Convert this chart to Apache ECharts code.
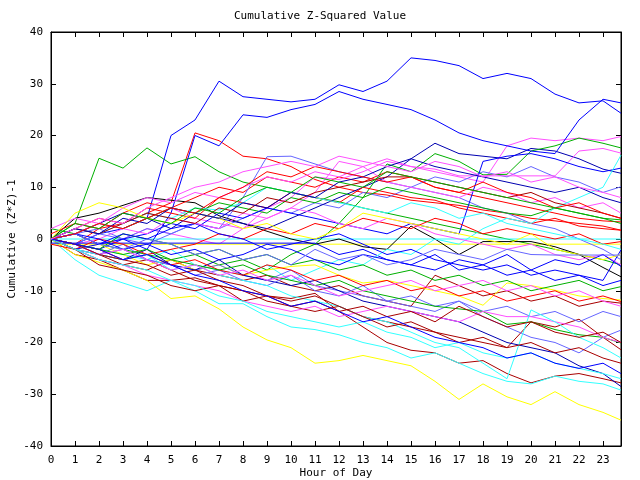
<!DOCTYPE html>
<html><head><meta charset="utf-8">
<script src="https://cdn.jsdelivr.net/npm/echarts@6/dist/echarts.min.js"></script>
<style>html,body{margin:0;padding:0;background:#fff}#c{width:640px;height:480px}</style>
</head><body><div id="c"></div>
<script>
const hours = [0,1,2,3,4,5,6,7,8,9,10,11,12,13,14,15,16,17,18,19,20,21,22,23,23.75];
const yTicks = [-40,-30,-20,-10,0,10,20,30,40];

const blueTop     = [0,-1,1,2,4,20,23,30.5,27.5,27,26.5,27,29.8,28.5,30.5,35,34.5,33.5,31,32,31,28,26.3,26.7,24.3];
const blueSecond  = [0,1,-1,0,-2,5,20,18,24,23.5,25,26,28.5,27,26,25,23,20.5,19,18,17,16.5,23,27,26.3];
const redHigh     = [0,-1,2,3,5,7,20.5,19,16,15.5,14,11.5,10,9,8.5,7.5,7,6.5,5.6,5,4,3.5,3,2.5,1.7];
const greenHigh   = [0,3,15.6,13.7,17.6,14.5,15.9,13,11,10,9,8,7.2,6,5,4,3,2,1,0,-1,-2,-3,-4,-5];
const greenRise   = [0,1,-1,-2,-3,-4,-3,-5,-4,-6,-3,-1,3,8,14.5,13,16.5,15,12.4,12.5,17,18,19.5,18.5,17.6];
const magentaA    = [0,1,-1,0,2,1,0,-1,2,4,6,9,15,14,15.5,14,13,12,11,18,19.5,19,19.5,19,19.8];
const magentaFlat = [0,-1,0,2,4,6,4,3,2,6,8,12,11.5,13,15,14,13.5,12.2,12.2,12.2,12.2,12.2,17,17.5,16.6];
const cyanRise    = [0,-1,-2,-3,-4,-2,-5,-6,-7,-5,-8,-6,-4,-5,-2,-3,0,-1,2,4,3,6,8,10,16.2];
const navyPeak    = [0,1,3,5,4,2,5,4,3,2,4,6,8,10,12,15.5,18.5,16.5,16,15.5,17.5,17,15.5,13.5,12.7];
const blueJump    = [0,-1,-2,0,1,3,2,5,4,6,5,4,3,2,1,3,2,1,15,16,16.5,15.5,14,13,13.7];
const slateA      = [0,1,2,0,-1,1,3,2,4,6,5,7,6,9,8,10,12,11,13,12,14,12,11,9,10.1];
const slateB      = [0,-1,1,0,2,1,3,2,8,15.9,16,14.5,13,12,11,10,9,8,6,5,3,2,0,-2,-4];
const yellowLow   = [0,-3,-4.5,-6,-8,-11.5,-11,-13.5,-17,-19.5,-21,-24,-23.5,-22.5,-23.5,-24.5,-27.5,-31,-28,-30.5,-32,-29.5,-32,-33.5,-35];
const cyanLow     = [0,-4,-7,-8.5,-10,-8,-10,-12.5,-12.5,-15,-17,-17.5,-18.5,-20,-21,-23,-22,-24,-26,-27.5,-28,-26.5,-27.5,-28,-29.2];
const darkRedA    = [0,-3,-4,-6,-8,-8,-7.5,-9,-10,-11,-11.5,-10.5,-14,-17,-20,-21.5,-22,-24,-23.5,-26,-27.8,-26.5,-26,-27,-27.8];
const darkRedB    = [0,-2,-4,-5,-6,-4,-6,-7,-8,-7,-9,-10,-9,-11,-12,-13,-7,-9,-11,-10,-12,-11,-13,-12,-12.4];
const darkRedC    = [0,-2,-3,-5,-4,-6,-8,-9,-10,-12,-13,-14,-13,-15,-16,-17,-18,-19,-20,-21,-16,-17,-15.5,-19,-21.4];
const navyLow     = [0,-1,-3,-4,-2,-5,-6,-4,-7,-8,-9,-8,-10,-12,-13,-14,-15,-16,-18,-20,-21,-22,-24.5,-26,-28.5];
const slateC      = [0,-2,-3,-1,-4,-5,-6,-5,-7,-8,-6,-9,-10,-11,-12,-13,-14,-12,-15,-17,-19,-20,-22,-19,-17.6];
const greenLow    = [0,-1,-2,-3,-2,-4,-5,-6,-5,-7,-8,-9,-8,-10,-11,-12,-13,-13.5,-14,-16.5,-16,-17.5,-18.5,-19,-20.1];
const magentaLow  = [0,-2,-4,-5,-7,-8,-9,-10,-12,-13,-14,-13,-15,-14,-13,-14,-15,-16,-14,-15,-15,-16,-17,-19,-20];
const blackLine   = [0,4,5,6.5,8,7.5,7,4.5,3,1.5,0,-1,0,-1.5,-2,2.5,0,-3,-0.5,-0.5,-0.5,-1.5,-3,-5.5,-7.3];
const cyanFlat    = [0,0,0,0,0,0,0,0,0,0,0,0,0,0,0,0,0,0,0,0,0,0,0,0,0];
const yellowFlat  = [-1,-1,-1,-1,-1,-1,-1,-1,-1,-1,-1,-1,-1,-1,-1,-1,-1,-1,-1,-1,-1,-1,-1,-1,-1];
const blueFlat    = [-0.8,-0.8,-0.8,-0.8,-0.8,-0.8,-0.8,-0.8,-0.8,-0.8,-0.8,-0.8,-3,-2,-4,-5,-3,-6,-5,-7,-6,-8,-7,-9,-8];
const slateFlat   = [0,1,-1,-2,0,-1,-3,-2,-4,-3,-5,-2,-4,-3,-5,-4,-2,-3,-4,-2,-3,-3.1,-3.1,-3.1,-3.1];
const redB        = [1,3,2,5,7,6,8,10,9,12,11,10,12,11,13,12,10,9,8,7,6,5,4,3.5,3.3];
const redC        = [0,2,4,3,6,5,4,8,7,6,9,8,7,10,9,8,7.5,6,5,4,3,4,2.5,2,1.7];
const redD        = [-1,-2,0,-1,-3,-2,-1,1,0,2,1,3,2,4,3,2,4,3,1,2,1,0,1,-1,-0.5];
const greenB      = [2,1,3,2,4,6,5,7,6,5,8,7,9,8,10,9,8,7,6,5,4.5,6,5,4,3.7];
const blueB       = [0,-2,-1,1,0,2,3,1,0,-2,-1,0,1,-1,-3,-2,-4,-5,-6,-5,-7,-6,-7,-8,-2.1];
const blueC       = [0,1,0,-2,-1,-3,-2,-4,-3,-1,-2,-4,-5,-3,-4,-5,-6,-4,-5,-3,-6,-4,-5,-3,-5.3];
const greenC      = [0,-1,-2,1,0,-1,-3,-2,-4,-3,-5,-4,-6,-5,-7,-6,-8,-7,-9,-8,-10,-9,-8,-10,-9.2];
const yellowMid   = [0,-2,-1,-3,-5,-4,-6,-5,-7,-6,-5.3,-5,-7,-8.5,-8,-9,-10,-11,-12.8,-8.5,-9,-9.9,-11,-11.5,-11.8];
const redE        = [0,-1,-2,-4,-3,-5,-4,-6,-7,-5,-6,-8,-7,-9,-8,-10,-9,-11,-10,-12,-11,-10,-12,-11,-12.1];
const slateD      = [0,-1,-3,-2,-4,-5,-7,-6,-8,-9,-7,-10,-11,-9,-12,-11,-13,-12,-14,-13,-15,-14,-16,-14,-15];
const magentaB    = [2,4,3,6,8,7,9,8,10,12,11,13,12,14,11,10,9,8,10,9,7,8,6,7,5];
const magentaC    = [0,1,3,2,1,4,3,2,5,4,6,5,3,2,4,3,1,0,-1,-2,-1,-3,-4,-3,-5];
const cyanMid     = [0,2,1,3,5,4,6,5.6,7,10,9,8,7,6,5,7,6,4,5,3,2,1,0,-1,-2];
const cyanJump    = [0,-2,-3,-4,-3,-6,-5,-7,-8,-9,-11,-12,-13,-15,-16,-18,-20,-21,-24,-27,-13.7,-16,-19,-21,-23];
const darkRedD    = [0,2,1,3,5,4,3,6,5,8,7,9,10,11,12,12,11,10,9,8,9,7,6,5,4];
const greenD      = [0,3,2,5,4,3,6,5,8,10,9,12,11,10,13,12,11,10,9,8,7,6,5,4,3];
const redF        = [0,1,3,2,4,6,5,8,10,13,12,14,13,12,11,12,10,9,11,9,8,6,7,5,4];
const navyMid     = [0,2,1,4,3,6,5,4,7,6,9,8,11,12,14,15.5,14,13,12,11,10,9,10,8,7];
const yellowB     = [0,5,7,6,4,3,5,4,2,3,1,0,2,5,4,3,2,1,0,-1,1,-2,-3,-4,-3];
const magentaD    = [0,-1,-3,-2,-4,-6,-5,-7,-6,-8,-7,-9,-11,-10,-9,-8,-10,-9,-8,-10,-9,-11,-10,-12,-13];
const darkRedE    = [0,-2,-5,-6,-7,-9,-10,-9,-12,-11,-13,-12,-14,-13,-15,-14,-16,-13,-15,-17,-16,-18,-19,-18,-20];
const darkRedF    = [0,-1,-3,-4,-5,-7,-6,-8,-9,-11,-12,-11,-13,-15,-17,-16,-18,-20,-19,-21,-20,-22,-21,-23,-24];
const cyanB       = [0,-2,-4,-5,-6,-8,-9,-11,-12,-14,-15,-16,-17,-16,-18,-19,-21,-20,-22,-23,-22,-24,-25,-26,-27];
const blueD       = [0,-1,-2,-4,-3,-5,-7,-8,-10,-11,-13,-12,-14,-16,-15,-17,-19,-20,-21,-23,-22,-24,-25,-24,-26];
const magentaE    = [0,2,4,3,6,8,10,11,13,14,15,14,16,15,14,13,15,14,12,13,11,12,10,9,8];

const seriesValues = [redHigh, greenHigh, blueTop, magentaA, cyanFlat, darkRedA, yellowFlat, blackLine, slateA, navyPeak,
  redB, greenRise, blueSecond, magentaFlat, cyanLow, darkRedB, yellowLow, slateB, blueFlat,
  redC, greenB, blueJump, magentaB, cyanRise, darkRedC, yellowMid, slateC, navyLow,
  redD, greenC, blueB, magentaC, cyanMid, darkRedD, yellowB, slateD, navyMid,
  redE, greenLow, blueC, magentaLow, cyanJump, darkRedE, slateFlat, redF, greenD, magentaD,
  darkRedF, cyanB, blueD, magentaE];
const seriesColors = ['#ff0000','#00b000','#0000ff','#ff50ff','#33ffff','#a80000','#ffff00','#000000','#6666ff','#0000b0',
  '#ff0000','#00b000','#0000ff','#ff50ff','#33ffff','#a80000','#ffff00','#6666ff','#0000ff',
  '#ff0000','#00b000','#0000ff','#ff50ff','#33ffff','#a80000','#ffff00','#6666ff','#0000b0',
  '#ff0000','#00b000','#0000ff','#ff50ff','#33ffff','#a80000','#ffff00','#6666ff','#0000b0',
  '#ff0000','#00b000','#0000ff','#ff50ff','#33ffff','#a80000','#6666ff','#ff0000','#00b000','#ff50ff',
  '#a80000','#33ffff','#0000ff','#ff50ff'];

const font = 'DejaVu Sans Mono';
const chart = echarts.init(document.getElementById('c'), null, {renderer: 'canvas'});
const series = seriesValues.map((vals, i) => ({
  type: 'line',
  data: hours.map((h, j) => [h, vals[j]]),
  showSymbol: false, symbol: 'none', silent: true,
  lineStyle: {width: 1, color: seriesColors[i]},
  itemStyle: {color: seriesColors[i]}
}));
const axisCommonX = {type: 'value', min: 0, max: 23.75, interval: 1,
  axisLine: {onZero: false, lineStyle: {color: '#000', width: 1}},
  axisTick: {inside: true, length: 5, lineStyle: {color: '#000'}},
  splitLine: {show: false}};
const axisCommonY = {type: 'value', min: yTicks[0], max: yTicks[yTicks.length - 1], interval: 10,
  axisLine: {show: true, onZero: false, lineStyle: {color: '#000', width: 1}},
  axisTick: {show: true, inside: true, length: 5, lineStyle: {color: '#000'}},
  splitLine: {show: false}};
chart.setOption({
  animation: false,
  backgroundColor: '#fff',
  title: {text: 'Cumulative Z-Squared Value', left: 'center', top: 6,
    textStyle: {fontFamily: font, fontSize: 11, fontWeight: 'normal', color: '#000'}},
  grid: {left: 51, right: 19, top: 32, bottom: 34, containLabel: false, outerBoundsMode: 'none',
    show: true, borderColor: '#000', borderWidth: 1},
  xAxis: [
    Object.assign({}, axisCommonX, {position: 'bottom', name: 'Hour of Day', nameLocation: 'middle', nameGap: 22,
      nameMoveOverlap: false,
      nameTextStyle: {fontFamily: font, fontSize: 11, color: '#000'},
      axisLabel: {fontFamily: font, fontSize: 11, color: '#000', margin: 9,
        formatter: v => (Number.isInteger(v) ? String(v) : '')}}),
    Object.assign({}, axisCommonX, {position: 'top', axisLabel: {show: false}})
  ],
  yAxis: [
    Object.assign({}, axisCommonY, {position: 'left', name: 'Cumulative (Z*Z)-1', nameLocation: 'middle', nameGap: 33, nameRotate: 90,
      nameMoveOverlap: false,
      nameTextStyle: {fontFamily: font, fontSize: 11, color: '#000'},
      axisLabel: {fontFamily: font, fontSize: 11, color: '#000', margin: 8}}),
    Object.assign({}, axisCommonY, {position: 'right', axisLabel: {show: false}})
  ],
  series: series
});
</script>
</body></html>
